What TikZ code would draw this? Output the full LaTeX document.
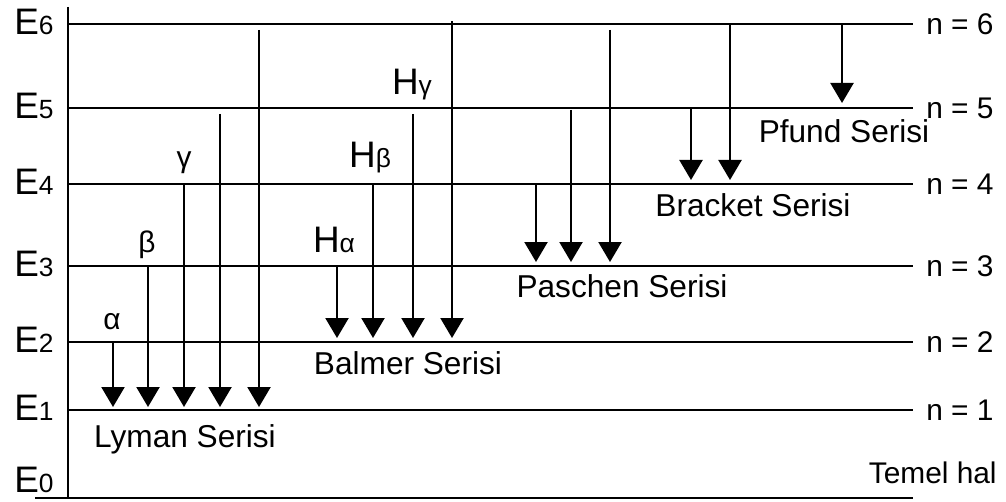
\documentclass[tikz,border=0pt]{standalone}
\usepackage{fontspec}
\setmainfont{Liberation Sans}
\usepackage{tikz}
\usetikzlibrary{arrows.meta, positioning}
\tikzstyle{level} = [
    line width=1.3pt, 
    black
]
\tikzstyle{arrow} = [
    line width=1.3pt, 
    -{Triangle[length=0.4cm, width=0.46cm]}
]
\tikzstyle{elabel} = [
    font=\fontsize{21}{24}\selectfont, 
    inner sep=0pt, 
    anchor=east
]
\tikzstyle{nlabel} = [
    font=\fontsize{17}{20}\selectfont, 
    inner sep=0pt
]
\tikzstyle{series} = [
    font=\fontsize{18}{21}\selectfont, 
    inner sep=0pt, 
    anchor=base
]
\tikzstyle{greek} = [
    font=\fontsize{17}{20}\selectfont, 
    inner sep=0pt
]
\newcommand{\sublev}[1]{{\fontsize{15}{18}\selectfont #1}}

\begin{document}
\begin{tikzpicture}[x=0.02cm, y=-0.02cm]
    \useasboundingbox (0,0) rectangle (1006,502);
    
    % Axis and ground state
    \coordinate (top) at (68,7);
    \coordinate (bot) at (68,498);
    \coordinate (L0) at (35,498);
    \coordinate (R0) at (913,498);
    \draw [level] (top) -- (bot);
    \draw [level] (L0) -- (R0);
    \node (e0) [elabel] at (54,480) {E\sublev{0}};
    \node (temel) [nlabel, anchor=base east] at (997,483) {Temel hal};
    
    % Levels
    \foreach \n/\y in {6/24, 5/108, 4/184, 3/266, 2/342, 1/410} {
        \coordinate (L\n) at (68,\y);
        \coordinate (R\n) at (913,\y);
        \draw [level] (L\n) -- (R\n);
        \node (e\n) [elabel] at (54,\y-2) {E\sublev{\n}};
        \node (n\n) [nlabel, right=0.26cm of R\n] {n = \n};
    }
    
    % Transitions
    \foreach \x/\t/\b [count=\i] in {
        113/342/407, 148/266/407, 184/184/407, 220/114/407, 259/30/407,
        337/266/338, 373/184/338, 413/114/338, 452/21/338,
        536/184/262, 571/110/262, 610/30/262,
        691/108/180, 730/24/180,
        842/24/103} {
        \coordinate (a\i) at (\x,\t);
        \coordinate (b\i) at (\x,\b);
        \draw [arrow] (a\i) -- (b\i);
    }
    
    % Line labels
    \node (alpha) [greek] at (112,322) {α};
    \node (beta) [greek] at (147,245) {β};
    \node (gamma) [greek] at (184,163) {γ};
    \node (Ha) [elabel, anchor=center] at (334,240) {H\sublev{α}};
    \node (Hb) [elabel, anchor=center] at (370,158) {H\sublev{β}};
    \node (Hg) [elabel, anchor=center] at (412,85) {H\sublev{γ}};
    
    % Series names
    \node (lyman) [series] at (185,447) {Lyman Serisi};
    \node (balmer) [series] at (408,375) {Balmer Serisi};
    \node (paschen) [series] at (622,298) {Paschen Serisi};
    \node (bracket) [series] at (753,217) {Bracket Serisi};
    \node (pfund) [series] at (844,143) {Pfund Serisi};
    
\end{tikzpicture}
\end{document}
